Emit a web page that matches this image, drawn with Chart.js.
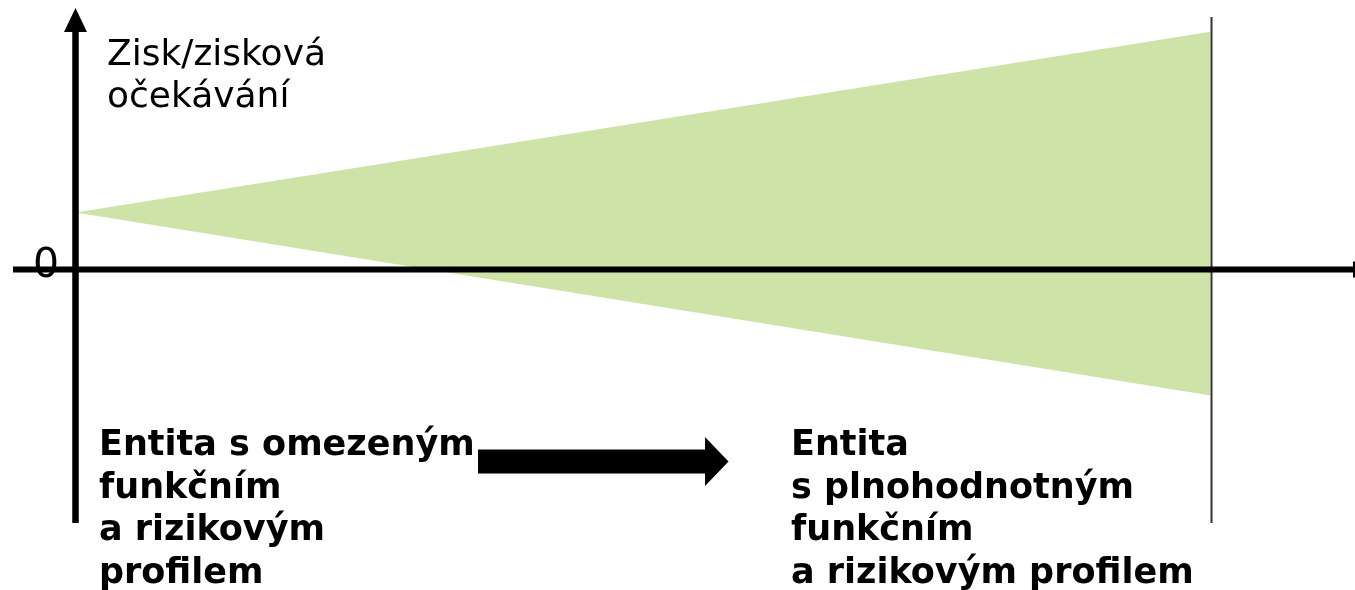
<!DOCTYPE html>
<html lang="cs">
<head>
<meta charset="utf-8">
<title>Zisk/zisková očekávání</title>
<script src="https://cdn.jsdelivr.net/npm/chart.js@4/dist/chart.umd.min.js"></script>
<style>
    html, body { margin: 0; padding: 0; background: #ffffff; }
    #wrap { position: relative; width: 1355px; height: 590px; }
</style>
</head>
<body>
<div id="wrap"><canvas id="profileChart"></canvas></div>
<script>
// Data
const stages = [0, 100];            // od omezeného k plnohodnotnému profilu
const upperProfit = [24, 100];      // horní hranice zisku
const lowerProfit = [24, -53];      // dolní hranice zisku
const zeroLabel = '0';
const yAxisTitle = ['Zisk/zisková', 'očekávání'];
const leftEntity = ['Entita s omezeným', 'funkčním', 'a rizikovým', 'profilem'];
const rightEntity = ['Entita', 's plnohodnotným', 'funkčním', 'a rizikovým profilem'];

(() => {
    'use strict';

    const ctx = document.getElementById('profileChart');

    const toPoints = (xs, ys) => xs.map((x, i) => ({ x: x, y: ys[i] }));

    // Osy, šipky a popisky
    const diagramPlugin = {
        id: 'diagram',
        afterDatasetsDraw(chart) {
            const c = chart.ctx;
            const xs = chart.scales.x;
            const ys = chart.scales.y;
            const x0 = xs.getPixelForValue(0);
            const y0 = ys.getPixelForValue(0);
            const xEnd = xs.getPixelForValue(stages[stages.length - 1]);

            c.save();

            // svislá čára na konci
            c.strokeStyle = '#333333';
            c.lineWidth = 2;
            c.beginPath();
            c.moveTo(xEnd + 1, 17);
            c.lineTo(xEnd + 1, 523);
            c.stroke();

            // osa x
            c.strokeStyle = '#000000';
            c.lineWidth = 6;
            c.beginPath();
            c.moveTo(13, y0);
            c.lineTo(chart.width, y0);
            c.stroke();
            c.lineWidth = 2;
            c.beginPath();
            c.moveTo(chart.width - 1, y0 - 8);
            c.lineTo(chart.width - 1, y0 + 8);
            c.stroke();

            // osa y se šipkou
            c.lineWidth = 6.5;
            c.beginPath();
            c.moveTo(x0, 523);
            c.lineTo(x0, 30);
            c.stroke();
            c.fillStyle = '#000000';
            c.beginPath();
            c.moveTo(x0, 8);
            c.lineTo(x0 + 11.5, 32);
            c.lineTo(x0 - 11.5, 32);
            c.closePath();
            c.fill();

            // šipka mezi entitami
            c.beginPath();
            c.moveTo(478, 449.5);
            c.lineTo(705, 449.5);
            c.lineTo(705, 437);
            c.lineTo(728.5, 461.5);
            c.lineTo(705, 486);
            c.lineTo(705, 473.5);
            c.lineTo(478, 473.5);
            c.closePath();
            c.fill();

            // popisky
            c.textBaseline = 'alphabetic';
            c.textAlign = 'left';
            c.font = '41px "DejaVu Sans"';
            c.fillText(zeroLabel, 33, 277);

            c.font = '36px "DejaVu Sans"';
            yAxisTitle.forEach((t, i) => c.fillText(t, 107, 65 + i * 42));

            c.font = 'bold 35px "DejaVu Sans"';
            leftEntity.forEach((t, i) => c.fillText(t, 99, 455 + i * 42.5));
            rightEntity.forEach((t, i) => c.fillText(t, 791, 455 + i * 42.5));

            c.restore();
        }
    };

    new Chart(ctx, {
        type: 'line',
        data: {
            datasets: [{
                label: 'horní',
                data: toPoints(stages, upperProfit),
                backgroundColor: '#cee3a7',
                borderColor: 'transparent',
                borderWidth: 0,
                pointRadius: 0,
                fill: '+1'
            }, {
                label: 'dolní',
                data: toPoints(stages, lowerProfit),
                backgroundColor: '#cee3a7',
                borderColor: 'transparent',
                borderWidth: 0,
                pointRadius: 0,
                fill: false
            }]
        },
        options: {
            responsive: true,
            maintainAspectRatio: false,
            animation: false,
            layout: { padding: 0 },
            scales: {
                x: { type: 'linear', display: false, min: -6.652, max: 112.73 },
                y: { type: 'linear', display: false, min: -134.78, max: 113.33 }
            },
            plugins: {
                legend: { display: false },
                tooltip: { enabled: false }
            }
        },
        plugins: [diagramPlugin]
    });
})();
</script>
</body>
</html>
